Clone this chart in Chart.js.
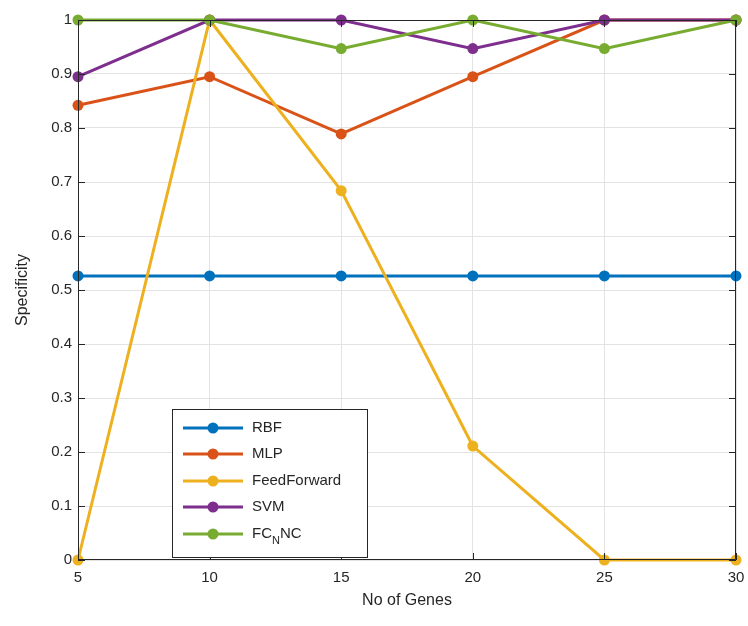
<!DOCTYPE html>
<html>
<head>
<meta charset="utf-8">
<script src="https://cdn.jsdelivr.net/npm/chart.js@4"></script>
<style>
    html, body { margin: 0; padding: 0; background: #fff; }
    #wrap { width: 748px; height: 626px; position: relative; }
</style>
</head>
<body>
<div id="wrap"><canvas id="chart"></canvas></div>
<script>
    // Chart data
    const genes = [5, 10, 15, 20, 25, 30];
    const rbf = [0.526, 0.526, 0.526, 0.526, 0.526, 0.526];
    const mlp = [0.842, 0.895, 0.789, 0.895, 1, 1];
    const feedForward = [0, 1, 0.684, 0.211, 0, 0];
    const svm = [0.895, 1, 1, 0.947, 1, 1];
    const fcnnc = [1, 1, 0.947, 1, 0.947, 1];
    const seriesNames = ['RBF', 'MLP', 'FeedForward', 'SVM', 'FC_NNC'];
    const seriesColors = ['#0072BD', '#D95319', '#EDB120', '#7E2F8E', '#77AC30'];
    const xTicks = [5, 10, 15, 20, 25, 30];
    const yTicks = [0, 0.1, 0.2, 0.3, 0.4, 0.5, 0.6, 0.7, 0.8, 0.9, 1];

    const FONT = '"Liberation Sans", Arial, sans-serif';
    const INK = '#262626';
    const allSeries = [rbf, mlp, feedForward, svm, fcnnc];

    const datasets = allSeries.map(function(vals, i) {
        return {
            label: seriesNames[i],
            data: genes.map(function(g, j) { return { x: g, y: vals[j] }; }),
            borderColor: seriesColors[i],
            backgroundColor: seriesColors[i],
            borderWidth: 3,
            pointRadius: 5.5,
            pointBorderWidth: 0,
            pointBackgroundColor: seriesColors[i],
            tension: 0,
            clip: 8,
            order: allSeries.length - i
        };
    });

    // Frame on all four sides with inward tick marks (MATLAB look)
    const framePlugin = {
        id: 'frame',
        afterDatasetsDraw(chart) {
            const ctx = chart.ctx;
            const a = chart.chartArea;
            const xs = chart.scales.x, ys = chart.scales.y;
            ctx.save();
            ctx.strokeStyle = INK;
            ctx.lineWidth = 1;
            ctx.beginPath();
            ctx.rect(a.left + 0.5, a.top + 0.5, a.right - a.left - 1, a.bottom - a.top - 1);
            xTicks.forEach(function(t) {
                const px = Math.round(xs.getPixelForValue(t)) + 0.5;
                ctx.moveTo(px, a.bottom); ctx.lineTo(px, a.bottom - 7);
                ctx.moveTo(px, a.top); ctx.lineTo(px, a.top + 7);
            });
            yTicks.forEach(function(t) {
                const py = Math.round(ys.getPixelForValue(t)) + 0.5;
                ctx.moveTo(a.left, py); ctx.lineTo(a.left + 7, py);
                ctx.moveTo(a.right, py); ctx.lineTo(a.right - 7, py);
            });
            ctx.stroke();
            ctx.restore();
        }
    };

    // Legend box with subscript support (FC_N NC)
    const legendPlugin = {
        id: 'matlabLegend',
        afterDraw(chart) {
            const ctx = chart.ctx;
            const box = { left: 172, top: 409, right: 367, bottom: 557 };
            ctx.save();
            ctx.fillStyle = '#fff';
            ctx.fillRect(box.left, box.top, box.right - box.left, box.bottom - box.top);
            ctx.strokeStyle = INK;
            ctx.lineWidth = 1;
            ctx.strokeRect(box.left + 0.5, box.top + 0.5, box.right - box.left, box.bottom - box.top);
            const rowY = [428, 454, 481, 507, 534];
            seriesNames.forEach(function(name, i) {
                const y = rowY[i];
                ctx.strokeStyle = seriesColors[i];
                ctx.lineWidth = 3;
                ctx.beginPath();
                ctx.moveTo(183, y); ctx.lineTo(243, y);
                ctx.stroke();
                ctx.fillStyle = seriesColors[i];
                ctx.beginPath();
                ctx.arc(213, y, 5.5, 0, Math.PI * 2);
                ctx.fill();
                ctx.fillStyle = INK;
                ctx.textBaseline = 'middle';
                ctx.textAlign = 'left';
                let x = 252;
                const parts = name.split(/_(.)/);
                parts.forEach(function(p, k) {
                    if (k % 2 === 1) {
                        ctx.font = '11px ' + FONT;
                        ctx.fillText(p, x, y + 7);
                    } else {
                        ctx.font = '15px ' + FONT;
                        ctx.fillText(p, x, y);
                    }
                    x += ctx.measureText(p).width;
                });
            });
            ctx.restore();
        }
    };

    new Chart(document.getElementById('chart').getContext('2d'), {
        type: 'line',
        data: { datasets: datasets },
        plugins: [framePlugin, legendPlugin],
        options: {
            responsive: true,
            maintainAspectRatio: false,
            animation: false,
            layout: { padding: { top: 20, right: 12, left: 0, bottom: 0 } },
            plugins: {
                legend: { display: false },
                tooltip: { enabled: false }
            },
            scales: {
                x: {
                    type: 'linear',
                    min: 5,
                    max: 30,
                    afterBuildTicks: function(s) {
                        s.ticks = xTicks.map(function(v) { return { value: v }; });
                    },
                    afterFit: function(s) {
                        s.height = 66;
                        s.paddingLeft = 0;
                        s.paddingRight = 0;
                    },
                    grid: { color: '#e3e3e3', drawTicks: false },
                    border: { display: false },
                    ticks: {
                        color: INK,
                        padding: 9,
                        font: { family: FONT, size: 15 }
                    },
                    title: {
                        display: true,
                        text: 'No of Genes',
                        color: INK,
                        padding: { top: 0, bottom: 16 },
                        font: { family: FONT, size: 16 }
                    }
                },
                y: {
                    type: 'linear',
                    min: 0,
                    max: 1,
                    afterBuildTicks: function(s) {
                        s.ticks = yTicks.map(function(v) { return { value: v }; });
                    },
                    afterFit: function(s) {
                        s.width = 78;
                        s.paddingTop = 0;
                        s.paddingBottom = 0;
                    },
                    grid: { color: '#e3e3e3', drawTicks: false },
                    border: { display: false },
                    ticks: {
                        color: INK,
                        padding: 6,
                        font: { family: FONT, size: 15 },
                        callback: function(v) { return String(Math.round(v * 10) / 10); }
                    },
                    title: {
                        display: true,
                        text: 'Specificity',
                        color: INK,
                        padding: { top: 13, bottom: 0 },
                        font: { family: FONT, size: 16 }
                    }
                }
            }
        }
    });
</script>
</body>
</html>
